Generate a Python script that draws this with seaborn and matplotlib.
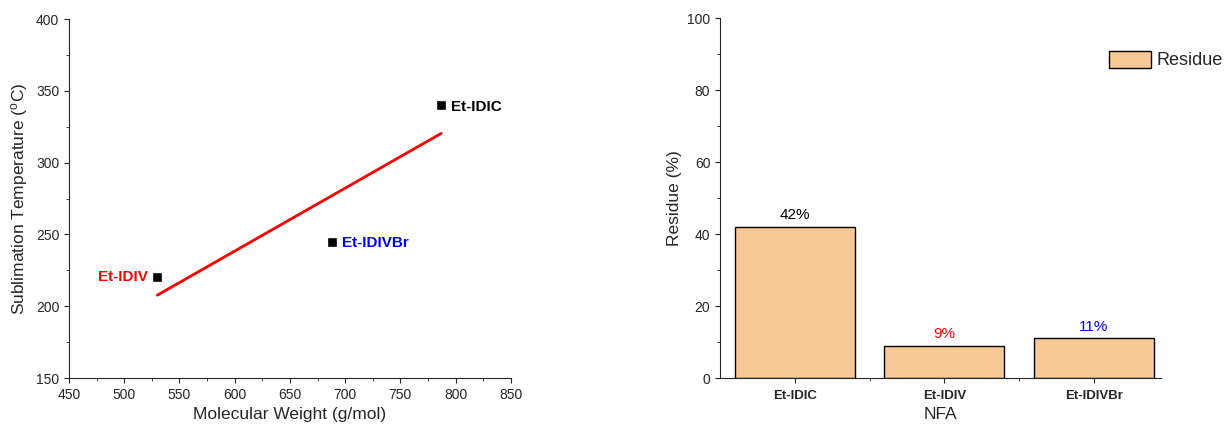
import matplotlib
matplotlib.use("Agg")
import matplotlib.pyplot as plt
from matplotlib.ticker import MultipleLocator
import seaborn as sns
import pandas as pd

# data
nfa = ["Et-IDIC", "Et-IDIV", "Et-IDIVBr"]
mol_weight = [787, 530, 688]
subl_temp = [340, 220, 245]
label_colors = ["black", "red", "blue"]
residue = [42, 9, 11]
residue_text = ["42%", "9%", "11%"]

sns.set_style("ticks")
plt.rcParams["font.family"] = ["Liberation Sans", "DejaVu Sans"]
plt.rcParams["xtick.direction"] = "out"
plt.rcParams["ytick.direction"] = "out"

df = pd.DataFrame({"NFA": nfa, "MW": mol_weight, "T": subl_temp, "Residue": residue})

fig = plt.figure(figsize=(12.25, 4.32), dpi=100)
ax1 = fig.add_axes([0.0563, 0.125, 0.3607, 0.831])
ax2 = fig.add_axes([0.5878, 0.125, 0.36, 0.833])

# left: sublimation temperature vs molecular weight
sns.regplot(data=df, x="MW", y="T", scatter=False, ci=None, ax=ax1,
            line_kws={"color": "red", "lw": 2})
sns.scatterplot(data=df, x="MW", y="T", marker="s", color="black", s=32,
                edgecolor="black", ax=ax1, zorder=3)
for name, x, y, c in zip(nfa, mol_weight, subl_temp, label_colors):
    if name == "Et-IDIV":
        ax1.annotate(name, (x, y), xytext=(-7, 0), textcoords="offset points",
                     ha="right", va="center", color=c, fontweight="bold", fontsize=11)
    else:
        ax1.annotate(name, (x, y), xytext=(7, -1), textcoords="offset points",
                     ha="left", va="center", color=c, fontweight="bold", fontsize=11)
ax1.set_xlim(450, 850)
ax1.set_ylim(150, 400)
ax1.xaxis.set_major_locator(MultipleLocator(50))
ax1.xaxis.set_minor_locator(MultipleLocator(25))
ax1.yaxis.set_major_locator(MultipleLocator(50))
ax1.yaxis.set_minor_locator(MultipleLocator(25))
ax1.set_xlabel("Molecular Weight (g/mol)", fontsize=12.5, labelpad=4)
ax1.set_ylabel("Sublimation Temperature ($\\mathregular{^{o}}$C)", fontsize=12.5, labelpad=4)
ax1.tick_params(labelsize=10)

# right: residue bars
sns.barplot(data=df, x="NFA", y="Residue", color="#F9C897", edgecolor="black",
            linewidth=1, width=0.8, saturation=1, ax=ax2, label="Residue")
for i, (v, t, c) in enumerate(zip(residue, residue_text, label_colors)):
    ax2.text(i, v + 1.3, t, ha="center", va="bottom", color=c, fontsize=11)
ax2.set_xlim(-0.5, 2.45)
ax2.set_ylim(0, 100)
ax2.yaxis.set_major_locator(MultipleLocator(20))
ax2.yaxis.set_minor_locator(MultipleLocator(10))
ax2.set_xticks([0.5, 1.5], minor=True)
ax2.set_xlabel("NFA", fontsize=12.5, labelpad=4)
ax2.set_ylabel("Residue (%)", fontsize=12.5, labelpad=4)
ax2.tick_params(axis="y", labelsize=10)
ax2.tick_params(axis="x", labelsize=9.5, pad=5)
for lab in ax2.get_xticklabels():
    lab.set_fontweight("bold")
ax2.legend(loc="upper left", bbox_to_anchor=(0.882, 0.91),
           frameon=False, fontsize=13, handlelength=2.3, handleheight=1.1,
           handletextpad=0.35, borderpad=0, borderaxespad=0)

sns.despine(fig=fig)
fig.savefig("out.png", dpi=100)
